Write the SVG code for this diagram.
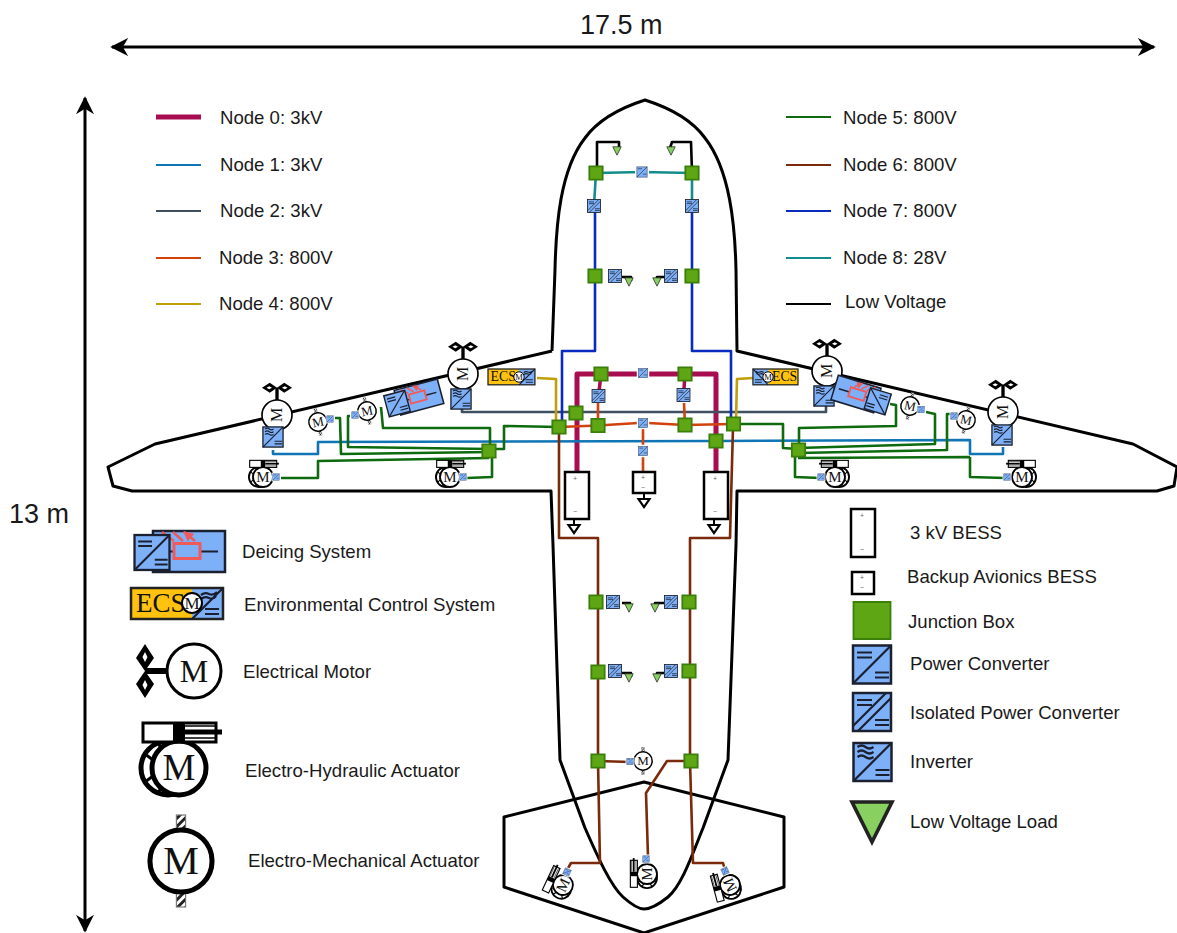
<svg xmlns="http://www.w3.org/2000/svg" width="1177" height="933" viewBox="0 0 1177 933">
<style>
text{font-family:"Liberation Sans",Arial,sans-serif;fill:#1a1a1a}
.lbl{font-size:18.6px}
.dim{font-size:27px}
.m{font-family:"Liberation Serif","Times New Roman",serif;text-anchor:middle;fill:#111}
.ecs{font-family:"Liberation Serif","Times New Roman",serif;font-size:27px;fill:#111}
.pm{font-size:7px;text-anchor:middle;fill:#666}
.frame{fill:none;stroke:#000;stroke-width:3;stroke-linejoin:round}
.c{fill:none;stroke-linejoin:round;stroke-linecap:butt}
.n0{stroke:#A80D50;stroke-width:5}
.n0b{stroke:#A80D50;stroke-width:3.5}
.n1{stroke:#0F75B5;stroke-width:2.6}
.n2{stroke:#3E4F60;stroke-width:2.6}
.n3{stroke:#D2410E;stroke-width:2.6}
.n4{stroke:#BF9F0A;stroke-width:2.6}
.n5{stroke:#0E6A0E;stroke-width:2.6}
.n6{stroke:#7A2A0A;stroke-width:2.6}
.n7{stroke:#0A2BC0;stroke-width:2.6}
.n8{stroke:#148C8C;stroke-width:2.6}
.lv{stroke:#000;stroke-width:2.6}
.blue{fill:#7EB0F8;stroke:#1a2030;stroke-width:2.5}
.ln{fill:none;stroke:#1a2030;stroke-width:2.2}
.batt{fill:#fff;stroke:#000;stroke-width:2.5}
</style>
<defs>
<marker id="dimhead" viewBox="0 0 10 10" refX="9" refY="5" markerWidth="6" markerHeight="6" orient="auto-start-reverse" markerUnits="strokeWidth"><path d="M0 0L10 5L0 10L3 5Z" fill="#000"/></marker>
<marker id="redhead" viewBox="0 0 10 10" refX="9" refY="5" markerWidth="4" markerHeight="4" orient="auto"><path d="M0 0L10 5L0 10Z" fill="#F05A5A"/></marker>
<pattern id="hatch" width="5" height="5" patternUnits="userSpaceOnUse" patternTransform="rotate(45)"><rect width="5" height="5" fill="#fff"/><rect width="2.5" height="5" fill="#222"/></pattern>
<g id="jb"><rect x="-18.500" y="-18.500" width="37" height="37" fill="#5FA615" stroke="#3A7F0A" stroke-width="1.800" vector-effect="non-scaling-stroke"/></g>
<g id="conv"><rect x="-19" y="-19" width="38" height="38" class="blue"/><path d="M-19 19L19-19M-15-12H0M-15-7H0M3 8H17M3 13H17" class="ln"/></g>
<g id="iso"><rect x="-19" y="-19" width="38" height="38" class="blue"/><path d="M-19 14L14-19M-14 19L19-14M-15-12H0M-15-7H0M3 8H17M3 13H17" class="ln"/></g>
<g id="inv"><rect x="-19" y="-19" width="38" height="38" class="blue"/><path d="M-19 19L19-19M-15-15Q-11-18-7-15T1-15M-15-10Q-11-13-7-10T1-10M-15-5Q-11-8-7-5T1-5M3 8H17M3 13H17" class="ln"/></g>
<g id="small"><rect x="-22" y="-22" width="44" height="44" fill="#7EB0F8" stroke="#fff" stroke-width="8"/><rect x="-19" y="-19" width="38" height="38" fill="#7EB0F8" stroke="#5C6C84" stroke-width="3"/><path d="M-19 19L19-19M-15-12H0M3 8H17" class="ln"/></g>
<g id="tri"><path d="M-20-20H20L0 20Z" fill="#88D060" stroke="#222" stroke-width="3.600"/></g>
<g id="prop"><path d="M0 0L-9-13L0-27L9-13Z M0 0L-9 13L0 27L9 13Z" fill="#000"/><path d="M0-9L-2.500-14L0-19L2.500-14ZM0 9L-2.500 14L0 19L2.500 14Z" fill="#fff"/></g>
<g id="motor"><path d="M-49 0H-27" stroke="#000" stroke-width="6"/><use href="#prop" x="-49"/><circle r="27" fill="#fff" stroke="#000" stroke-width="3"/></g>
<g id="ema"><rect x="-4" y="-40" width="8" height="14" fill="url(#hatch)" stroke="#777" stroke-width="1"/><rect x="-4" y="26" width="8" height="14" fill="url(#hatch)" stroke="#777" stroke-width="1"/><circle r="27" fill="#fff" stroke="#000" stroke-width="4.400"/></g>
<g id="eha"><circle cx="-11" r="27" fill="#fff" stroke="#000" stroke-width="5"/><path d="M-34-14L-26-8V8L-34 14M-20-24L-14-8M-20 24L-14 8" fill="none" stroke="#000" stroke-width="3"/><circle r="27" fill="#fff" stroke="#000" stroke-width="5"/><rect x="-36" y="-45" width="73" height="19" fill="#fff" stroke="#000" stroke-width="3"/><rect x="-6" y="-45" width="12" height="19" fill="#000"/><path d="M6-36H43" stroke="#000" stroke-width="5"/><path d="M6-42H36M6-30H36" stroke="#000" stroke-width="1.500"/></g>
<g id="deice"><rect x="-36" y="-20.500" width="72" height="41" class="blue"/><path d="M-20 0H-15M11 0H29" class="ln"/><rect x="-15" y="-8" width="26" height="15" fill="none" stroke="#F05A5A" stroke-width="3"/><path d="M-15-10.500L-27-19.500M-6-10.500L-16-19.500M6-10.500L-5-19.500" fill="none" stroke="#F05A5A" stroke-width="2.500" marker-end="url(#redhead)"/><use href="#conv" transform="translate(-37 1) scale(.92)"/></g>
<g id="ecsbg"><rect x="0" y="0" width="61" height="31" fill="#FFC20E"/><rect x="61" y="0" width="31" height="31" fill="#7EB0F8"/><rect x="0" y="0" width="92" height="31" fill="none" stroke="#222" stroke-width="2.500"/><path d="M61 31L92 0M70 7Q74 4 78 6T86 4M70 11Q74 8 78 10T85 8M74 21H88M74 26H88" class="ln"/></g>
<g id="gnd"><path d="M0-4V1" stroke="#000" stroke-width="2"/><path d="M-5.500 1H5.500L0 9Z" fill="#fff" stroke="#000" stroke-width="2.200"/></g>
</defs>

<g id="airframe">
<path class="frame" d="M552 351L155 444L108 467L113 486L132 491H551L553 545L560 760L585 828C597 855 610 885 623 897C632 905 638 909 644 909C650 909 658 905 668 897C682 885 692 855 703 828L728 760L736 545L737 491H1157L1174 486L1177 467L1133 444L737 351L736 270C735 225 730 170 705 138C692 120 670 108 645 100C620 108 598 120 585 138C560 170 556 225 555 270L552 351"/>
<path class="frame" d="M504 817L644 782L784 817V887L644 933L504 887Z"/>
</g>

<g id="dimensions">
<path d="M112 47H1154" stroke="#000" stroke-width="3" marker-start="url(#dimhead)" marker-end="url(#dimhead)"/>
<path d="M85 98V931" stroke="#000" stroke-width="3" marker-start="url(#dimhead)" marker-end="url(#dimhead)"/>
<text class="dim" x="580" y="34">17.5 m</text>
<text class="dim" x="9" y="523">13 m</text>
</g>

<g id="connectors">
<path class="c n0" d="M577 472V374H640M647 374H716V472"/>
<path class="c n0b" d="M601 374L598.500 396M685 374L683.500 396"/>
<path class="c n1" d="M273 450V454H318V442L716 441L970 440V454H1003V447"/>
<path class="c n2" d="M462 408V412H826V406"/>
<path class="c n3" d="M559 427L598 425.500L638 423M648 423L685 425L733 424M598 403V425M684 403L685 425M643 423V473"/>
<path class="c n4" d="M537 378L556 379V422M753 378L737 379L736 420"/>
<path class="c n5" d="M489 449H504V426L559 427M381 407L383 428H490V451M335 418H340L341 454L489 452M350 416H348V447L489 449M281 478H318V461L489 458M467 478L492 477V451"/>
<path class="c n5" d="M733 424H783V448L798 449M890 404L896 405V426L799 428V450M926 412L935 414V444L798 448M950 414L947 414V450L798 453M970 457L798 458M970 457V477L1005 478M795 453V477L820 478"/>
<path class="c n6" d="M559 427V538H598V761L600 863H571L567 870M733 427L730 538H690V761L693 863H723L725 870M598 761L630 762M691 761H667L646 793L648 857"/>
<path class="c n7" d="M595 206V351H562V422M692 206V351H731V420"/>
<path class="c n8" d="M596 173L642 172L692 173M596 173L594 205M692 173V205"/>
<path class="c lv" d="M597 172V142H619V148M692 172L691 142H672L670 148"/>
<path class="c lv" d="M622 277H631V281M666 277H657V281M622 603H630V607M664 603H655V607M622 673H631V677M664 673H657V677"/>
</g>

<g id="wing-motor-1"><use href="#motor" transform="translate(277 415) rotate(90) scale(.556)"/><text class="m" font-size="16" transform="translate(277 415) rotate(-90)" y="5.300">M</text></g>
<g id="wing-motor-2"><use href="#motor" transform="translate(463 374) rotate(90) scale(.556)"/><text class="m" font-size="16" transform="translate(463 374) rotate(-90)" y="5.300">M</text></g>
<g id="wing-motor-3"><use href="#motor" transform="translate(827 371) rotate(90) scale(.556)"/><text class="m" font-size="16" transform="translate(827 371) rotate(-90)" y="5.300">M</text></g>
<g id="wing-motor-4"><use href="#motor" transform="translate(1003 412) rotate(90) scale(.556)"/><text class="m" font-size="16" transform="translate(1003 412) rotate(-90)" y="5.300">M</text></g>
<g id="motor-inverters">
<use href="#inv" transform="translate(273 437) scale(.53)"/>
<use href="#inv" transform="translate(461 399) scale(.53)"/>
<use href="#inv" transform="translate(824 396) scale(.53)"/>
<use href="#inv" transform="translate(1002 435) scale(.53)"/>
</g>

<g id="ema-1"><use href="#ema" transform="translate(318 422) rotate(-12) scale(.34)"/><text class="m" font-size="13" transform="translate(318 422) rotate(-12)" y="4.300">M</text><use href="#small" transform="translate(330 419) scale(.17)"/></g>
<g id="ema-2"><use href="#ema" transform="translate(367 411) rotate(-12) scale(.34)"/><text class="m" font-size="13" transform="translate(367 411) rotate(-12)" y="4.300">M</text><use href="#small" transform="translate(355 415) scale(.17)"/></g>
<g id="ema-3"><use href="#ema" transform="translate(910 406) rotate(12) scale(.34)"/><text class="m" font-size="13" transform="translate(910 406) rotate(12)" y="4.300">M</text><use href="#small" transform="translate(921 409.500) scale(.17)"/></g>
<g id="ema-4"><use href="#ema" transform="translate(966 420) rotate(12) scale(.34)"/><text class="m" font-size="13" transform="translate(966 420) rotate(12)" y="4.300">M</text><use href="#small" transform="translate(954 416) scale(.17)"/></g>
<g id="ema-5"><use href="#ema" transform="translate(643 761) scale(.34)"/><text class="m" font-size="13" transform="translate(643 761)" y="4.300">M</text><use href="#small" transform="translate(630 761.500) scale(.17)"/></g>

<g id="eha-1"><use href="#eha" transform="translate(263 477) scale(.37)"/><text class="m" font-size="15" transform="translate(263 477)" y="5">M</text><use href="#small" transform="translate(276 477) scale(.17)"/></g>
<g id="eha-2"><use href="#eha" transform="translate(450 477) scale(.37)"/><text class="m" font-size="15" transform="translate(450 477)" y="5">M</text><use href="#small" transform="translate(463 477) scale(.17)"/></g>
<g id="eha-3"><use href="#eha" transform="translate(835 477) scale(-.37 .37)"/><text class="m" font-size="15" transform="translate(835 477)" y="5">M</text><use href="#small" transform="translate(821 477) scale(.17)"/></g>
<g id="eha-4"><use href="#eha" transform="translate(1022 477) scale(-.37 .37)"/><text class="m" font-size="15" transform="translate(1022 477)" y="5">M</text><use href="#small" transform="translate(1007 477) scale(.17)"/></g>
<g id="eha-5"><use href="#eha" transform="translate(563 885) rotate(-65) scale(.37)"/><text class="m" font-size="15" transform="translate(563 885) rotate(-65)" y="5">M</text><use href="#small" transform="translate(567 872) rotate(25) scale(.17)"/></g>
<g id="eha-6"><use href="#eha" transform="translate(647 874) rotate(-90) scale(.37)"/><text class="m" font-size="15" transform="translate(647 874) rotate(-90)" y="5">M</text><use href="#small" transform="translate(646 859) scale(.17)"/></g>
<g id="eha-7"><use href="#eha" transform="translate(730 885) rotate(-105) scale(.37)"/><text class="m" font-size="15" transform="translate(730 885) rotate(-115)" y="5">M</text><use href="#small" transform="translate(725 871) rotate(-25) scale(.17)"/></g>

<g id="deicing-left"><use href="#deice" transform="translate(419 397) rotate(-15) scale(.62)"/></g>
<g id="deicing-right"><use href="#deice" transform="translate(856 394) rotate(17) scale(-.62 .62)"/></g>

<g id="ecs-left"><use href="#ecsbg" transform="translate(488 369) scale(.51)"/><text class="ecs" transform="translate(488 369) scale(.51)" x="5" y="23">ECS</text><circle cx="519" cy="377" r="5.200" fill="#fff" stroke="#000" stroke-width="1"/><text class="m" font-size="9" x="519" y="380">M</text></g>
<g id="ecs-right"><use href="#ecsbg" transform="translate(798 369) scale(-.49 .51)"/><text class="ecs" transform="translate(772 369) scale(.51)" y="23">ECS</text><circle cx="768" cy="377" r="5.200" fill="#fff" stroke="#000" stroke-width="1"/><text class="m" font-size="9" x="768" y="380">M</text></g>

<g id="conv-top"><use href="#small" transform="translate(642 172) scale(.27)"/></g>
<g id="conv-wingbus"><use href="#small" transform="translate(643 373) scale(.24)"/></g>
<g id="conv-mid"><use href="#small" transform="translate(643 423) scale(.24)"/></g>
<g id="conv-backup"><use href="#small" transform="translate(643 451) scale(.24)"/></g>
<g id="iso-set">
<use href="#iso" transform="translate(594 206) scale(.34)"/>
<use href="#iso" transform="translate(692 206) scale(.34)"/>
<use href="#iso" transform="translate(598.500 396) scale(.34)"/>
<use href="#iso" transform="translate(683.500 395) scale(.34)"/>
<use href="#iso" transform="translate(615 276) scale(.34)"/>
<use href="#iso" transform="translate(671 276) scale(.34)"/>
<use href="#iso" transform="translate(613 602) scale(.34)"/>
<use href="#iso" transform="translate(671 602) scale(.34)"/>
<use href="#iso" transform="translate(615 671) scale(.34)"/>
<use href="#iso" transform="translate(671 671) scale(.34)"/>
</g>
<g id="lv-loads">
<use href="#tri" transform="translate(617 151) scale(.21)"/>
<use href="#tri" transform="translate(671 151) scale(.21)"/>
<use href="#tri" transform="translate(629 282) scale(.21)"/>
<use href="#tri" transform="translate(657 282) scale(.21)"/>
<use href="#tri" transform="translate(629 608) scale(.21)"/>
<use href="#tri" transform="translate(655 608) scale(.21)"/>
<use href="#tri" transform="translate(629 678) scale(.21)"/>
<use href="#tri" transform="translate(657 678) scale(.21)"/>
</g>
<g id="junction-boxes">
<use href="#jb" transform="translate(596 173) scale(.36)"/>
<use href="#jb" transform="translate(692 173) scale(.36)"/>
<use href="#jb" transform="translate(595 276) scale(.36)"/>
<use href="#jb" transform="translate(692 276) scale(.36)"/>
<use href="#jb" transform="translate(601 374) scale(.36)"/>
<use href="#jb" transform="translate(685 374) scale(.36)"/>
<use href="#jb" transform="translate(576 413) scale(.36)"/>
<use href="#jb" transform="translate(716 441) scale(.36)"/>
<use href="#jb" transform="translate(559 427) scale(.36)"/>
<use href="#jb" transform="translate(598 425.500) scale(.36)"/>
<use href="#jb" transform="translate(685 425) scale(.36)"/>
<use href="#jb" transform="translate(733.500 424) scale(.36)"/>
<use href="#jb" transform="translate(489 451) scale(.36)"/>
<use href="#jb" transform="translate(798.500 450) scale(.36)"/>
<use href="#jb" transform="translate(596 602) scale(.36)"/>
<use href="#jb" transform="translate(689 602) scale(.36)"/>
<use href="#jb" transform="translate(598 672) scale(.36)"/>
<use href="#jb" transform="translate(689 671) scale(.36)"/>
<use href="#jb" transform="translate(598 761) scale(.36)"/>
<use href="#jb" transform="translate(691 761) scale(.36)"/>
</g>

<g id="bess-left"><rect class="batt" x="565" y="472" width="24" height="47"/><text class="pm" x="575" y="481">+</text><text class="pm" x="575" y="514">−</text><use href="#gnd" transform="translate(574 524)"/></g>
<g id="bess-right"><rect class="batt" x="704" y="472" width="24" height="47"/><text class="pm" x="715" y="481">+</text><text class="pm" x="715" y="514">−</text><use href="#gnd" transform="translate(714 524)"/></g>
<g id="bess-backup"><rect class="batt" x="633" y="472" width="22" height="21"/><text class="pm" x="643" y="480">+</text><text class="pm" x="643" y="490">−</text><use href="#gnd" transform="translate(644 498)"/></g>

<g id="legend-lines">
<path d="M156 117H201" stroke="#A80D50" stroke-width="5"/>
<path d="M156 165H201" stroke="#0F75B5" stroke-width="2"/>
<path d="M156 211H201" stroke="#3E4F60" stroke-width="2"/>
<path d="M156 258H201" stroke="#D2410E" stroke-width="2"/>
<path d="M156 304H201" stroke="#BF9F0A" stroke-width="2"/>
<path d="M786 117H831" stroke="#0E6A0E" stroke-width="2"/>
<path d="M786 165H831" stroke="#7A2A0A" stroke-width="2"/>
<path d="M786 211H831" stroke="#0A2BC0" stroke-width="2"/>
<path d="M786 258H831" stroke="#148C8C" stroke-width="2"/>
<path d="M786 304H831" stroke="#000" stroke-width="2"/>
<text class="lbl" x="220" y="124">Node 0: 3kV</text>
<text class="lbl" x="220" y="171">Node 1: 3kV</text>
<text class="lbl" x="220" y="217">Node 2: 3kV</text>
<text class="lbl" x="219" y="264">Node 3: 800V</text>
<text class="lbl" x="219" y="310">Node 4: 800V</text>
<text class="lbl" x="843" y="124">Node 5: 800V</text>
<text class="lbl" x="843" y="171">Node 6: 800V</text>
<text class="lbl" x="843" y="217">Node 7: 800V</text>
<text class="lbl" x="843" y="264">Node 8: 28V</text>
<text class="lbl" x="845" y="308">Low Voltage</text>
</g>

<g id="legend-deicing"><use href="#deice" transform="translate(189 551.500)"/><text class="lbl" x="242" y="558">Deicing System</text></g>
<g id="legend-ecs"><use href="#ecsbg" transform="translate(131 588)"/><text class="ecs" x="136" y="612">ECS</text><circle cx="192" cy="603" r="10" fill="#fff" stroke="#000" stroke-width="2"/><text class="m" font-size="17" x="192" y="608.500">M</text><text class="lbl" x="244" y="611">Environmental Control System</text></g>
<g id="legend-motor"><use href="#motor" transform="translate(194 671)"/><text class="m" font-size="32" x="194" y="682">M</text><text class="lbl" x="243" y="678">Electrical Motor</text></g>
<g id="legend-eha"><use href="#eha" transform="translate(179 768)"/><text class="m" font-size="37" x="179" y="780">M</text><text class="lbl" x="245" y="777">Electro-Hydraulic Actuator</text></g>
<g id="legend-ema"><use href="#ema" transform="translate(181 861) scale(1.15)"/><text class="m" font-size="40" x="181" y="874">M</text><text class="lbl" x="248" y="867">Electro-Mechanical Actuator</text></g>

<g id="legend-bess"><rect class="batt" x="851" y="509" width="24" height="48"/><text class="pm" x="862" y="518">+</text><text class="pm" x="862" y="552">−</text><text class="lbl" x="910" y="539">3 kV BESS</text></g>
<g id="legend-backup"><rect class="batt" x="852" y="572" width="22" height="22"/><text class="pm" x="862" y="580">+</text><text class="pm" x="862" y="590">−</text><text class="lbl" x="907" y="583">Backup Avionics BESS</text></g>
<g id="legend-jb"><use href="#jb" transform="translate(872 620.500)"/><text class="lbl" x="908" y="628">Junction Box</text></g>
<g id="legend-conv"><use href="#conv" transform="translate(872 664.500)"/><text class="lbl" x="910" y="670">Power Converter</text></g>
<g id="legend-iso"><use href="#iso" transform="translate(872 712)"/><text class="lbl" x="910" y="719">Isolated Power Converter</text></g>
<g id="legend-inv"><use href="#inv" transform="translate(872.500 762)"/><text class="lbl" x="910" y="768">Inverter</text></g>
<g id="legend-load"><use href="#tri" transform="translate(872 822)"/><text class="lbl" x="910" y="828">Low Voltage Load</text></g>
</svg>
